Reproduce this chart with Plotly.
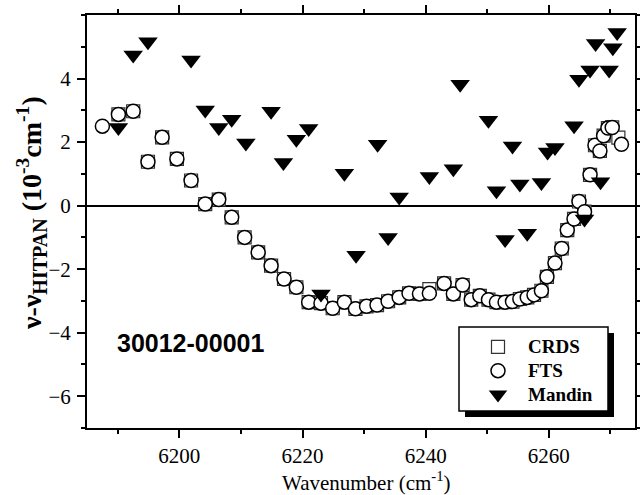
import plotly.graph_objects as go

# ---- data ----
fts_x = [6187.5, 6190.1, 6192.5, 6194.9, 6197.2, 6199.6, 6201.9, 6204.2, 6206.4, 6208.5,
         6210.6, 6212.8, 6214.9, 6217.0, 6219.0, 6221.0, 6223.0, 6224.9, 6226.8, 6228.6,
         6230.4, 6232.1, 6233.9, 6235.7, 6237.3, 6239.0, 6240.6, 6243.0, 6244.5, 6246.0,
         6247.4, 6248.8, 6250.2, 6251.5, 6252.9, 6254.1, 6255.3, 6256.5, 6257.6, 6258.8,
         6259.7, 6261.0, 6262.1, 6263.0, 6264.1, 6264.9, 6265.8, 6266.7, 6267.5, 6268.3,
         6268.9, 6269.6, 6270.3, 6271.8]
fts_y = [2.50, 2.87, 2.97, 1.38, 2.15, 1.47, 0.79, 0.05, 0.19, -0.37,
         -1.00, -1.47, -1.89, -2.31, -2.57, -3.04, -3.07, -3.23, -3.04, -3.25,
         -3.17, -3.13, -3.01, -2.89, -2.76, -2.78, -2.76, -2.45, -2.78, -2.50,
         -2.96, -2.84, -2.96, -3.04, -3.04, -3.02, -2.94, -2.89, -2.81, -2.68,
         -2.24, -1.81, -1.35, -0.77, -0.42, 0.13, -0.19, 0.97, 1.90, 1.72,
         2.20, 2.44, 2.46, 1.93]

crds_x = [6190.1, 6192.5, 6194.9, 6197.2, 6199.6, 6201.9, 6204.2, 6206.4, 6208.5,
          6210.6, 6212.8, 6214.9, 6217.0, 6219.0, 6221.0, 6223.0, 6224.9, 6226.8, 6228.6,
          6230.4, 6232.1, 6233.9, 6235.7, 6237.3, 6239.0, 6240.6, 6243.0, 6244.5, 6246.0,
          6247.4, 6248.8, 6250.2, 6251.5, 6252.9, 6254.1, 6255.3, 6256.5, 6257.6, 6258.8,
          6259.7, 6261.0, 6262.1, 6263.0, 6264.1, 6264.9, 6265.8, 6266.7, 6267.5, 6268.3,
          6268.9, 6269.6, 6270.3, 6271.3]
crds_y = [2.87, 2.97, 1.38, 2.15, 1.47, 0.79, 0.05, 0.19, -0.37,
          -1.00, -1.47, -1.89, -2.31, -2.57, -3.04, -3.07, -3.23, -3.04, -3.25,
          -3.17, -3.13, -3.01, -2.89, -2.76, -2.78, -2.63, -2.45, -2.78, -2.50,
          -2.96, -2.84, -2.96, -3.04, -3.04, -3.02, -2.94, -2.89, -2.81, -2.68,
          -2.24, -1.81, -1.35, -0.77, -0.42, 0.13, -0.19, 0.97, 1.90, 1.72,
          2.20, 2.44, 2.46, 2.14]

mandin_x = [6190.1, 6192.5, 6194.9, 6201.9, 6204.2, 6206.4, 6208.5, 6210.8, 6214.9, 6216.9,
            6219.0, 6221.0, 6223.0, 6226.8, 6228.7, 6232.2, 6233.9, 6235.7, 6240.6, 6244.5,
            6245.6, 6250.2, 6251.5, 6252.9, 6254.1, 6255.3, 6256.5, 6258.8, 6259.8, 6261.0,
            6264.1, 6264.9, 6265.8, 6266.7, 6267.6, 6268.4, 6269.8, 6270.4, 6271.1]
mandin_y = [2.46, 4.74, 5.16, 4.58, 3.01, 2.46, 2.72, 1.97, 2.97, 1.36,
            2.09, 2.43, -2.78, 1.02, -1.56, 1.93, -1.00, 0.27, 0.92, 1.16,
            3.82, 2.69, 0.47, -1.07, 1.88, 0.68, -0.87, 0.73, 1.69, 1.83,
            2.51, 3.98, -0.42, 4.27, 5.10, 0.75, 4.27, 4.97, 5.45]

x_range = [6185, 6274]
y_range = [-7, 6]
x_ticks = [6200, 6220, 6240, 6260]
y_ticks = [-6, -4, -2, 0, 2, 4]
band_label = "30012-00001"
series_names = ["CRDS", "FTS", "Mandin"]

serif = "Liberation Serif, Times New Roman, Times, serif"
sans = "Liberation Sans, Arial, Helvetica, sans-serif"

def legend_name(s):
    return '<span style="font-size:19px">' + s + '</span>'

fig = go.Figure()
fig.add_trace(go.Scatter(x=crds_x, y=crds_y, mode="markers", name=legend_name(series_names[0]),
                         marker=dict(symbol="square", size=13, color="white",
                                     line=dict(color="#333333", width=1.2))))
fig.add_trace(go.Scatter(x=fts_x, y=fts_y, mode="markers", name=legend_name(series_names[1]),
                         marker=dict(symbol="circle", size=14, color="white",
                                     line=dict(color="black", width=1.5))))
fig.add_trace(go.Scatter(x=mandin_x, y=mandin_y, mode="markers", name=legend_name(series_names[2]),
                         marker=dict(symbol="triangle-down", size=17, color="black",
                                     line=dict(color="black", width=0))))

L, R, T, B = 87, 5, 15, 67
W, H = 640, 495
pw, ph = W - L - R, H - T - B

def px(xp):
    return (xp - L) / pw

def py(yp):
    return (H - B - yp) / ph

axis_common = dict(showline=True, linecolor="black", linewidth=2, mirror="allticks",
                   ticks="outside", ticklen=8, tickwidth=1.5, tickcolor="black",
                   showgrid=False, automargin=False,
                   tickfont=dict(family=serif, size=21, color="black"))

fig.update_xaxes(range=x_range, tickvals=x_ticks, zeroline=False,
                 minor=dict(dtick=10, tick0=6190, ticklen=4, tickwidth=1.5,
                            tickcolor="black", ticks="outside"),
                 **axis_common)
fig.update_yaxes(range=y_range, tickvals=y_ticks, zeroline=True, zerolinecolor="black",
                 zerolinewidth=1.5, ticklabelstandoff=2,
                 minor=dict(dtick=1, tick0=0, ticklen=4, tickwidth=1.5,
                            tickcolor="black", ticks="outside"),
                 **axis_common)

# legend box with shadow
fig.add_shape(type="rect", xref="paper", yref="paper", layer="below",
              x0=px(465), x1=px(614), y0=py(417), y1=py(333),
              fillcolor="black", line=dict(width=0))
fig.add_shape(type="rect", xref="paper", yref="paper", layer="below",
              x0=px(459), x1=px(608), y0=py(411), y1=py(327),
              fillcolor="white", line=dict(color="black", width=1.5))

ytitle = ('ν-ν<sub><span style="font-size:20px">HITPAN</span></sub> '
          '(10<sup>-3</sup>cm<sup>-1</sup>)')

fig.update_layout(
    width=W, height=H, margin=dict(l=L, r=R, t=T, b=B),
    plot_bgcolor="white", paper_bgcolor="white",
    showlegend=True,
    legend=dict(x=px(468), y=py(330), xanchor="left", yanchor="top",
                bgcolor="rgba(0,0,0,0)", borderwidth=0, itemwidth=50,
                tracegroupgap=0,
                font=dict(family=serif, size=16, color="black", weight="bold")),
    annotations=[
        dict(text=band_label, xref="paper", yref="paper", x=px(190), y=py(343),
             xanchor="center", yanchor="middle", showarrow=False,
             font=dict(family=sans, size=25, color="black", weight="bold")),
        dict(text=ytitle, xref="paper", yref="paper",
             x=px(31), y=py(213), xanchor="center", yanchor="middle", textangle=-90, showarrow=False,
             font=dict(family=serif, size=28, color="black", weight="bold")),
        dict(text="Wavenumber (cm<sup>-1</sup>)", xref="paper", yref="paper",
             x=px(366), y=py(481), xanchor="center", yanchor="middle", showarrow=False,
             font=dict(family=serif, size=21, color="black")),
    ],
)

fig.write_html("out.html")
